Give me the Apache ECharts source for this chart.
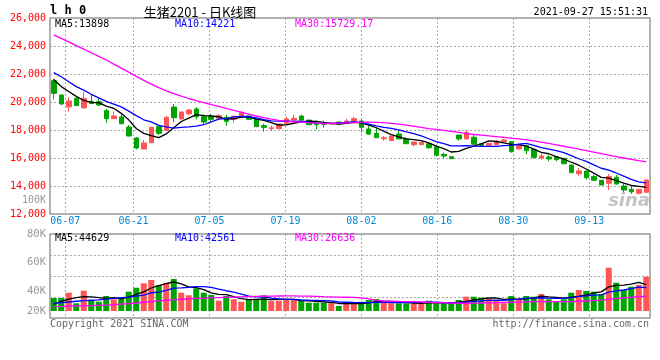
<!DOCTYPE html>
<html><head><meta charset="utf-8">
<script src="https://cdn.jsdelivr.net/npm/echarts@6/dist/echarts.min.js"></script>
<style>html,body{margin:0;padding:0;background:#fff}#c{width:660px;height:360px}</style>
</head><body><div id="c"></div>
<script>
// ---- data ----
const dates = ['06-03','06-04','06-07','06-08','06-09','06-10','06-11','06-15','06-16','06-17',
 '06-18','06-21','06-22','06-23','06-24','06-25','06-28','06-29','06-30','07-01',
 '07-02','07-05','07-06','07-07','07-08','07-09','07-12','07-13','07-14','07-15',
 '07-16','07-19','07-20','07-21','07-22','07-23','07-26','07-27','07-28','07-29',
 '07-30','08-02','08-03','08-04','08-05','08-06','08-09','08-10','08-11','08-12',
 '08-13','08-16','08-17','08-18','08-19','08-20','08-23','08-24','08-25','08-26',
 '08-27','08-30','08-31','09-01','09-02','09-03','09-06','09-07','09-08','09-09',
 '09-10','09-13','09-14','09-15','09-16','09-17','09-22','09-23','09-24','09-27'];
const labelDates = ['06-07','06-21','07-05','07-19','08-02','08-16','08-30','09-13'];

const openP = [21521,20500,19660,20260,19590,20050,20020,19380,18810,18930,
 18210,17430,16640,17090,18240,17980,19640,18790,19160,19500,
 18950,18950,18840,18910,18760,18910,19000,18760,18310,18090,
 18090,18480,18710,19000,18710,18480,18470,18410,18570,18480,
 18640,18640,18070,17760,17380,17240,17710,17360,16950,16950,
 17020,16810,16260,16090,17640,17360,17480,17020,16910,16950,
 17170,17170,16640,16880,16620,16000,16070,16090,15980,15500,
 14880,15070,14670,14410,14190,14620,14000,13760,13480,13550];
const closeP = [20619,19860,20070,19740,20260,19900,19790,18810,19000,18450,
 17570,16710,17070,18190,17760,18910,18880,19290,19430,18950,
 18570,18760,19020,18620,18980,19250,18760,18240,18190,18160,
 18430,18790,18840,18710,18380,18380,18410,18470,18430,18640,
 18810,18190,17710,17450,17450,17570,17360,17020,17140,17120,
 16740,16190,16140,15950,17360,17810,16980,16910,17050,17140,
 17290,16450,16880,16520,16050,16140,15930,15880,15590,14950,
 15070,14590,14410,14070,14670,14140,13710,13590,13760,14430];
const lowP = [20190,19780,19300,19720,19500,19880,19710,18520,18800,18410,
 17550,16620,16620,17080,17640,17960,18570,18780,19050,18760,
 18430,18570,18820,18290,18520,18900,18750,18200,17880,17950,
 18080,18470,18570,18700,18370,18050,18170,18400,18420,18470,
 18630,17810,17640,17440,17240,17230,17350,17010,16810,16940,
 16640,16090,15950,15940,17240,17350,16970,16860,16900,16940,
 17110,16380,16620,16290,15950,15880,15770,15760,15580,14940,
 14740,14480,14400,14060,13710,14100,13500,13430,13400,13540];
const highP = [21650,20520,20330,20430,20710,20520,20260,19520,19310,19190,
 18360,17500,17290,18230,18330,19000,19860,19300,19500,19640,
 19120,19140,19140,19090,19000,19330,19010,18770,18450,18310,
 18450,18950,19070,19090,18720,18670,18670,18550,18580,18790,
 18950,18760,18290,18190,17570,17580,17930,17480,17150,17130,
 17030,16950,16380,16100,17650,18000,17640,17050,17060,17290,
 17350,17180,16950,16900,16630,16330,16200,16140,16000,15510,
 15290,15080,14790,14420,14860,14790,14140,13950,13770,14440];

const ma5 = [21600,21100,20750,20400,20110,19966,19952,19700,19552,19190,
 18724,18108,17760,17598,17460,17728,18162,18606,18854,19092,
 19024,19000,18946,18784,18790,18926,18926,18770,18684,18520,
 18356,18362,18482,18586,18630,18620,18544,18470,18414,18466,
 18552,18508,18356,18160,17922,17674,17508,17370,17308,17242,
 17076,16842,16666,16428,16476,16690,16848,17002,17222,17178,
 17074,16968,16962,16856,16638,16408,16304,16104,15918,15698,
 15484,15216,14922,14618,14562,14376,14200,14036,13974,13898];
const ma10 = [22100,21800,21450,21100,20850,20550,20300,20050,19850,19650,
 19345,19030,18730,18575,18325,18226,18135,18183,18226,18276,
 18376,18581,18776,18819,18941,18975,18963,18858,18734,18655,
 18635,18638,18620,18629,18569,18488,18453,18476,18500,18548,
 18586,18526,18413,18287,18194,18113,18008,17863,17734,17582,
 17375,17175,17018,16868,16859,16883,16845,16834,16825,16827,
 16882,16908,16982,17039,16908,16741,16636,16533,16387,16168,
 15946,15760,15513,15268,15130,14930,14708,14479,14296,14221];
const ma30 = [24800,24540,24290,24030,23780,23520,23260,23000,22710,22420,
 22130,21830,21550,21280,21030,20800,20600,20420,20250,20100,
 19960,19820,19680,19540,19400,19270,19140,19000,18880,18770,
 18690,18630,18590,18560,18520,18490,18480,18480,18490,18510,
 18530,18560,18560,18540,18520,18480,18420,18350,18270,18180,
 18100,18040,17970,17900,17830,17740,17680,17630,17580,17530,
 17480,17420,17360,17290,17220,17130,17040,16940,16840,16740,
 16640,16530,16420,16310,16200,16100,16000,15900,15810,15729];

const volume = [35280,35280,38990,31580,40390,33890,32700,36680,34380,35770,
 39690,42480,45560,47860,44370,45980,48560,38990,37170,42060,
 38990,37380,33400,36680,34380,32700,33890,33890,37170,33190,
 33400,33890,33890,33190,32000,32000,32000,31580,29690,31580,
 31580,32700,33890,34590,32000,31580,31580,31580,31580,31580,
 33400,31580,31580,31580,33890,36190,36190,35490,34590,33890,
 31580,36680,35070,36680,36190,38080,34380,33190,34380,38990,
 40870,40180,39690,38080,56460,45980,40870,43180,44370,50170];
const volMa5 = [31000,33000,34500,35500,36304,36026,35510,35048,35608,34684,
 35844,37800,39576,42272,43992,45250,46466,45152,43014,42552,
 41154,38918,37800,37702,36166,34908,34210,34308,34406,34168,
 34308,34308,34308,33512,33274,32994,32616,32154,31454,31370,
 31286,31426,31888,32868,32952,32952,32728,32266,31664,31580,
 31944,31944,31944,31944,32406,32964,33886,34668,35270,35270,
 34348,34446,34362,34780,35240,36540,36080,35704,35244,35804,
 36362,37522,38822,39562,43056,44078,44216,44914,46172,44629];
const volMa10 = [31500,32000,32500,33000,33400,33700,34000,34500,35000,35494,
 35935,36655,37312,38940,39338,40547,42133,42364,42643,43272,
 43202,42692,41476,40358,39359,38031,36564,36054,36054,35167,
 34608,34259,34308,33959,33721,33651,33462,33231,32483,32322,
 32140,32021,32021,32161,32161,32119,32077,32077,32266,32266,
 32448,32336,32105,31804,31993,32454,32915,33306,33607,33838,
 33656,34166,34515,35025,35255,35444,35263,35033,35012,35522,
 36451,36801,37263,37403,39430,40220,40869,41868,42867,42561];
const volMa30 = [29300,29400,29550,29700,29850,30000,30150,30300,30600,31000,
 31400,31800,32300,32800,33300,33700,34000,34400,34700,35000,
 35200,35400,35600,35750,35900,36050,36200,36350,36500,36600,
 36680,36700,36700,36650,36550,36400,36200,36050,35900,35800,
 35700,35300,34600,33600,33200,33000,32900,32800,32700,32500,
 32300,32100,31900,31700,31600,31600,31700,31800,31900,32000,
 32150,32300,32450,32600,32700,32700,32700,32700,32750,32850,
 33000,33200,33400,33800,34300,34800,35300,35800,36200,36600];

const priceMin = 12000, priceMax = 26000, priceStep = 2000;
const volMin = 26200, volMax = 80000;
const volTickValues = [26200, 40000, 60000, 80000];
const volTickLabels = ['20K', '40K', '60K', '80K'];

// ---- styles ----
const UP = '#ff5555', DOWN = '#00a400';
const MONO = '"DejaVu Sans Mono", monospace';
const GRIDC = '#aaaaaa';
const dotted = {color: GRIDC, type: [2, 2], width: 1};
const isLabelDate = (idx, val) => labelDates.indexOf(val) >= 0;

const chart = echarts.init(document.getElementById('c'), null, {renderer: 'canvas'});

function txt(x, y, text, fill, align, font) {
  return {type: 'text', x: x, y: y, silent: true, z: 100,
    style: {text: text, fill: fill, align: align || 'left', verticalAlign: 'middle',
      font: font || ('10px ' + MONO)}};
}

const option = {
  animation: false,
  backgroundColor: '#fff',
  grid: [
    {left: 50, right: 10, top: 18, height: 196, show: true, borderColor: '#999', borderWidth: 1.5, outerBoundsMode: 'none'},
    {left: 50, right: 10, top: 234, height: 77, outerBoundsMode: 'none'},
    {left: 50, right: 10, top: 234, height: 84, show: true, borderColor: '#999', borderWidth: 1.5, outerBoundsMode: 'none'}
  ],
  xAxis: [
    {type: 'category', gridIndex: 0, data: dates, boundaryGap: true, show: false, position: 'bottom'},
    {type: 'category', gridIndex: 0, data: dates, boundaryGap: false, position: 'bottom',
      axisLine: {show: false}, axisTick: {show: false},
      axisLabel: {interval: isLabelDate, color: '#0088dd', fontSize: 10, fontFamily: MONO, margin: 2},
      splitLine: {show: true, interval: isLabelDate, lineStyle: dotted}},
    {type: 'category', gridIndex: 1, data: dates, boundaryGap: true, show: false, position: 'bottom'},
    {type: 'category', gridIndex: 2, data: dates, boundaryGap: false, position: 'bottom',
      axisLine: {show: false}, axisTick: {show: false}, axisLabel: {show: false},
      splitLine: {show: true, interval: isLabelDate, lineStyle: dotted}}
  ],
  yAxis: [
    {type: 'value', gridIndex: 0, min: priceMin, max: priceMax, interval: priceStep,
      axisLine: {show: false}, axisTick: {show: false},
      axisLabel: {color: '#ff0000', fontSize: 10, fontFamily: MONO, margin: 4, padding: [0, 0, 3, 0]},
      splitLine: {show: true, lineStyle: dotted, showMinLine: false, showMaxLine: false}},
    {type: 'value', gridIndex: 1, min: volMin, max: volMax,
      axisLine: {show: false}, axisTick: {show: false}, splitLine: {show: false},
      axisLabel: {customValues: volTickValues, color: '#999', fontSize: 10.5, fontFamily: MONO, margin: 4,
        padding: [0, 0, 2, 0],
        formatter: (v) => volTickLabels[volTickValues.indexOf(v)] || ''}},
    {type: 'value', gridIndex: 2, min: 0, max: 4, interval: 1,
      axisLine: {show: false}, axisTick: {show: false}, axisLabel: {show: false},
      splitLine: {show: true, lineStyle: dotted, showMinLine: false, showMaxLine: false}}
  ],
  series: [
    {type: 'candlestick', xAxisIndex: 0, yAxisIndex: 0, barWidth: 5,
      data: dates.map((d, i) => [openP[i], closeP[i], lowP[i], highP[i]]),
      itemStyle: {color: UP, color0: DOWN, borderColor: UP, borderColor0: DOWN, borderWidth: 1}},
    {type: 'line', xAxisIndex: 0, yAxisIndex: 0, data: ma5, showSymbol: false, z: 5,
      lineStyle: {color: '#000', width: 1.3}},
    {type: 'line', xAxisIndex: 0, yAxisIndex: 0, data: ma10, showSymbol: false, z: 5,
      lineStyle: {color: '#0000ff', width: 1.3}},
    {type: 'line', xAxisIndex: 0, yAxisIndex: 0, data: ma30, showSymbol: false, z: 5,
      lineStyle: {color: '#ff00ff', width: 1.3}},
    {type: 'bar', xAxisIndex: 2, yAxisIndex: 1, barWidth: 6,
      data: volume.map((v, i) => ({value: v, itemStyle: {color: closeP[i] >= openP[i] ? UP : DOWN}}))},
    {type: 'line', xAxisIndex: 2, yAxisIndex: 1, data: volMa5, showSymbol: false, z: 5,
      lineStyle: {color: '#000', width: 1.3}},
    {type: 'line', xAxisIndex: 2, yAxisIndex: 1, data: volMa10, showSymbol: false, z: 5,
      lineStyle: {color: '#0000ff', width: 1.3}},
    {type: 'line', xAxisIndex: 2, yAxisIndex: 1, data: volMa30, showSymbol: false, z: 5,
      lineStyle: {color: '#ff00ff', width: 1.3}}
  ],
  graphic: [
    txt(50, 11, 'l h 0', '#000', 'left', 'bold 12px ' + MONO),
    txt(200, 12, '生猪2201 - 日K线图', '#000', 'center', '13px "Noto Sans CJK SC"'),
    txt(648, 12, '2021-09-27 15:51:31', '#000', 'right'),
    txt(55, 24, 'MA5:' + ma5[ma5.length - 1], '#000'),
    txt(175, 24, 'MA10:' + ma10[ma10.length - 1], '#0000ff'),
    txt(295, 24, 'MA30:15729.17', '#ff00ff'),
    txt(46, 200, '100K', '#999', 'right', '10px ' + MONO),
    txt(55, 238, 'MA5:' + volMa5[volMa5.length - 1], '#000'),
    txt(175, 238, 'MA10:' + volMa10[volMa10.length - 1], '#0000ff'),
    txt(295, 238, 'MA30:26636', '#ff00ff'),
    txt(50, 324, 'Copyright 2021 SINA.COM', '#666'),
    txt(649, 324, 'http://finance.sina.com.cn', '#666', 'right'),
    txt(650, 201, 'sina', '#c4c4c4', 'right', 'italic bold 18px "DejaVu Sans"')
  ]
};
chart.setOption(option);
</script></body></html>
